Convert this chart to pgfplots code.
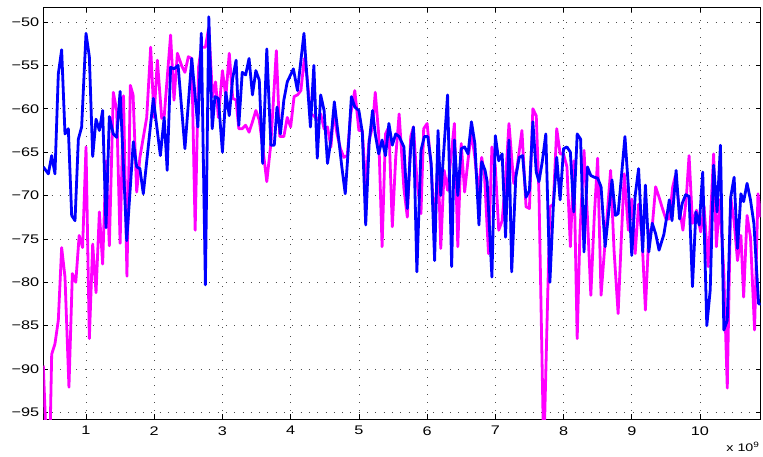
\documentclass[border=0pt]{standalone}
\usepackage{fontspec}
\setmainfont{Liberation Sans}
\newfontfamily\tickfont[FakeStretch=1.3]{Liberation Sans}
\usepackage{pgfplots}
\pgfplotsset{compat=1.18}
\definecolor{mblue}{RGB}{0,0,255}
\definecolor{mmag}{RGB}{255,0,255}
\begin{document}
\begin{tikzpicture}
\useasboundingbox (-43.3pt,-36.7pt) rectangle (719.7pt,419.3pt);
\begin{axis}[
  name=ax,
  at={(0,0)}, anchor=south west,
  scale only axis, width=717.4pt, height=412pt,
  xmin=0.374, xmax=10.89, ymin=-95.8, ymax=-48.3,
  xtick={1,2,3,4,5,6,7,8,9,10},
  xticklabels={1,2,3,4,5,6,7,8,9,10},
  ytick={-95,-90,-85,-80,-75,-70,-65,-60,-55,-50},
  yticklabels={−95,−90,−85,−80,−75,−70,−65,−60,−55,−50},
  tick align=inside, major tick length=5pt,
  xtick pos=both, ytick pos=both,
  tick style={black, line width=0.6pt},
  axis line style={black, line width=0.8pt},
  grid=major,
  major grid style={black!70, line width=0.6pt, dash pattern=on 0.8pt off 7.5pt},
  ticklabel style={font=\tickfont\fontsize{12.5}{15}\selectfont},
  xticklabel style={yshift=-3.5pt},
  yticklabel style={xshift=-0.5pt},
  clip=true,
  every axis plot/.append style={line width=2.8pt, line join=round, no markers},
]
\addplot[mmag] coordinates {
(0.374,-89.6)(0.42,-99)(0.47,-99)(0.497,-88.3)(0.545,-87.1)(0.594,-84.4)(0.643,-76)(0.692,-79.4)
(0.75,-92.1)(0.8,-79)(0.85,-80)(0.9,-74.6)(0.95,-76)(1.0,-64.4)(1.049,-86.5)(1.098,-75.6)
(1.147,-81.2)(1.196,-71.9)(1.244,-77.9)(1.293,-66)(1.342,-75.8)(1.4,-58.1)(1.45,-60.2)(1.5,-75.5)
(1.55,-58.5)(1.6,-79.3)(1.65,-57.3)(1.69,-58.4)(1.743,-69.6)(1.79,-65.6)(1.89,-61)(1.948,-52.9)
(1.997,-61)(2.046,-54.4)(2.11,-61.1)(2.146,-60.9)(2.24,-51.5)(2.29,-59)(2.34,-53.6)(2.4,-55)
(2.45,-55.8)(2.5,-54)(2.55,-54.2)(2.6,-74)(2.65,-55.2)(2.69,-52.9)(2.75,-52.9)(2.8,-50.6)
(2.854,-58.6)(2.9,-56.9)(2.94,-61)(3.0,-55.6)(3.05,-58.6)(3.1,-53.6)(3.15,-58.8)(3.2,-59)
(3.24,-62.3)(3.29,-62.3)(3.34,-61.9)(3.39,-62.7)(3.44,-61.5)(3.49,-60.2)(3.54,-61.3)(3.59,-64.4)
(3.65,-68.4)(3.71,-64)(3.79,-53.3)(3.84,-63.2)(3.9,-63.2)(3.95,-61)(4.0,-62.1)(4.05,-58.6)
(4.1,-58.4)(4.15,-57.9)(4.2,-54.2)(4.24,-56.3)(4.29,-60.6)(4.34,-60.8)(4.39,-61.3)(4.44,-60.6)
(4.49,-62.3)(4.54,-62.1)(4.59,-64.4)(4.63,-60.4)(4.68,-62.9)(4.73,-64.6)(4.78,-65.6)(4.83,-65.4)
(4.88,-60.6)(4.94,-57.9)(5.0,-62.5)(5.05,-62.5)(5.1,-69)(5.15,-63.6)(5.2,-62.1)(5.24,-58.1)
(5.29,-62.9)(5.34,-75.9)(5.39,-62.9)(5.44,-62.1)(5.49,-73.6)(5.54,-65.6)(5.59,-60.6)(5.66,-69.2)
(5.71,-72.5)(5.76,-63.2)(5.8,-62.1)(5.85,-68.2)(5.91,-72.1)(5.95,-62.3)(6.0,-61.7)(6.06,-66.7)
(6.11,-74)(6.16,-65.6)(6.2,-76.1)(6.25,-67.1)(6.3,-69.4)(6.4,-61.7)(6.45,-75.9)(6.5,-64)
(6.55,-69.6)(6.6,-65.9)(6.65,-62.7)(6.7,-65.6)(6.75,-69.8)(6.8,-65.6)(6.84,-67.5)(6.9,-76.7)
(6.95,-64.4)(7.0,-66.7)(7.05,-74)(7.1,-72.9)(7.15,-68.2)(7.2,-61.7)(7.27,-68.6)(7.32,-66.7)
(7.39,-62.5)(7.45,-71.3)(7.5,-71.5)(7.55,-60)(7.6,-60.8)(7.64,-69.8)(7.71,-100)(7.8,-71.3)
(7.85,-71)(7.9,-62.3)(7.95,-65.2)(8.0,-65.2)(8.05,-66.7)(8.1,-75.9)(8.15,-66)(8.2,-86.5)
(8.24,-74.4)(8.3,-64.8)(8.35,-72.5)(8.4,-81.5)(8.45,-72.5)(8.5,-65.7)(8.55,-81.5)(8.6,-76.3)
(8.69,-67.1)(8.74,-76.3)(8.8,-83.6)(8.85,-74.4)(8.89,-67.5)(8.95,-74)(9.0,-70.4)(9.05,-76.7)
(9.1,-71)(9.15,-74.8)(9.2,-83.2)(9.25,-74.4)(9.3,-73.6)(9.35,-69)(9.4,-70.2)(9.45,-71.5)
(9.5,-72.7)(9.55,-72.7)(9.6,-69)(9.64,-67.7)(9.69,-71)(9.75,-74)(9.8,-70.2)(9.84,-65.4)
(9.89,-73.2)(9.95,-71.7)(10.01,-74.2)(10.06,-71.3)(10.12,-78.2)(10.2,-65.2)(10.24,-75.9)(10.29,-70.5)
(10.35,-79)(10.4,-92.2)(10.45,-70.2)(10.5,-73)(10.55,-77.5)(10.6,-74.6)(10.64,-81.7)(10.69,-72.3)
(10.74,-74.8)(10.8,-85.5)(10.85,-69.8)(10.89,-72.5)
};
\addplot[mblue] coordinates {
(0.374,-66.7)(0.448,-67.5)(0.497,-65.4)(0.545,-67.5)(0.594,-56)(0.643,-53.2)(0.692,-62.9)(0.741,-62.3)
(0.79,-72.3)(0.839,-72.9)(0.888,-63.5)(0.936,-62.1)(1.0,-51.3)(1.049,-54)(1.098,-65.5)(1.147,-61.2)
(1.196,-62.5)(1.244,-60.2)(1.293,-73.7)(1.342,-60.9)(1.4,-62.9)(1.45,-63.3)(1.5,-58)(1.597,-75.2)
(1.694,-63.8)(1.743,-66.7)(1.79,-66.9)(1.84,-69.8)(1.987,-58.8)(2.09,-65.4)(2.146,-61)(2.19,-67.1)
(2.24,-55.2)(2.29,-55.4)(2.35,-55)(2.45,-64.6)(2.55,-54.2)(2.64,-62.1)(2.69,-51.3)(2.75,-80.3)
(2.8,-49.4)(2.85,-62.3)(2.89,-58.6)(2.94,-58.8)(3.0,-65)(3.05,-58.1)(3.1,-60.8)(3.15,-56.5)
(3.2,-54.4)(3.24,-61.9)(3.29,-55.8)(3.34,-56.1)(3.39,-54.2)(3.44,-58.4)(3.49,-55.6)(3.54,-56.7)
(3.59,-66.3)(3.65,-53.1)(3.71,-64.2)(3.76,-64.2)(3.8,-59.8)(3.85,-62.9)(3.9,-59)(3.95,-56.9)
(4.04,-55.4)(4.1,-57.9)(4.195,-51.3)(4.24,-56.5)(4.29,-62.1)(4.34,-55)(4.39,-65.7)(4.44,-58.4)
(4.49,-60.2)(4.54,-66.3)(4.59,-63.6)(4.64,-59.2)(4.7,-63.2)(4.75,-66.7)(4.8,-69.8)(4.84,-65.2)
(4.89,-58.6)(4.94,-59.8)(5.0,-60.2)(5.05,-62.7)(5.1,-73.4)(5.15,-64)(5.2,-60.2)(5.24,-62.9)
(5.29,-65.2)(5.34,-63.6)(5.39,-65.4)(5.44,-61.7)(5.49,-64.2)(5.54,-62.9)(5.59,-63.2)(5.66,-64.4)
(5.71,-71.5)(5.76,-64.4)(5.8,-62.1)(5.85,-78.8)(5.91,-64.8)(5.96,-63.2)(6.01,-63.2)(6.06,-66.3)
(6.11,-77.5)(6.16,-62.5)(6.2,-70)(6.3,-58.4)(6.36,-78.2)(6.4,-63.6)(6.45,-70)(6.5,-64.6)
(6.55,-64.4)(6.6,-65.2)(6.65,-61.5)(6.7,-64)(6.76,-73.4)(6.8,-66.1)(6.85,-67.1)(6.88,-68.4)
(6.95,-79.4)(7.0,-63.1)(7.05,-66)(7.1,-65.2)(7.15,-74.8)(7.2,-63.6)(7.24,-78.8)(7.3,-67.9)
(7.35,-65.6)(7.4,-65.4)(7.45,-70.2)(7.5,-69.4)(7.55,-61.5)(7.6,-67.3)(7.64,-68.4)(7.69,-66)
(7.74,-62.9)(7.8,-80)(7.85,-71.3)(7.9,-65.6)(7.95,-70.5)(8.0,-64.6)(8.05,-64.4)(8.1,-65)
(8.15,-71.9)(8.2,-62.9)(8.25,-63.5)(8.3,-76.5)(8.35,-66.7)(8.4,-67.7)(8.45,-67.9)(8.5,-68)
(8.55,-69)(8.61,-75.9)(8.71,-68.2)(8.76,-72.3)(8.8,-72.1)(8.9,-63.2)(8.95,-69)(9.0,-76.9)
(9.05,-70)(9.1,-66.9)(9.16,-76.5)(9.2,-68.8)(9.25,-76.5)(9.3,-73.2)(9.35,-74.4)(9.4,-76.3)
(9.47,-74.5)(9.52,-72.1)(9.55,-70.5)(9.59,-72.9)(9.65,-67.1)(9.7,-72.7)(9.74,-70.9)(9.79,-69.9)
(9.84,-70.1)(9.89,-80.5)(9.94,-71.9)(9.99,-73.4)(10.04,-67.3)(10.1,-85)(10.15,-80.9)(10.2,-66.5)
(10.25,-71.9)(10.3,-64.2)(10.35,-85.5)(10.4,-84.4)(10.45,-70.2)(10.5,-67.9)(10.55,-76.1)(10.6,-69.8)
(10.64,-70.7)(10.69,-68.6)(10.74,-70.5)(10.79,-73.2)(10.83,-78.6)(10.86,-82.5)(10.9,-82.5)
};
\end{axis}
\node[anchor=base east, inner sep=0pt, font=\tickfont\fontsize{11}{13}\selectfont] at ([yshift=-32.5pt, xshift=-1pt]ax.south east) {x 10\textsuperscript{9}};
\end{tikzpicture}
\end{document}
